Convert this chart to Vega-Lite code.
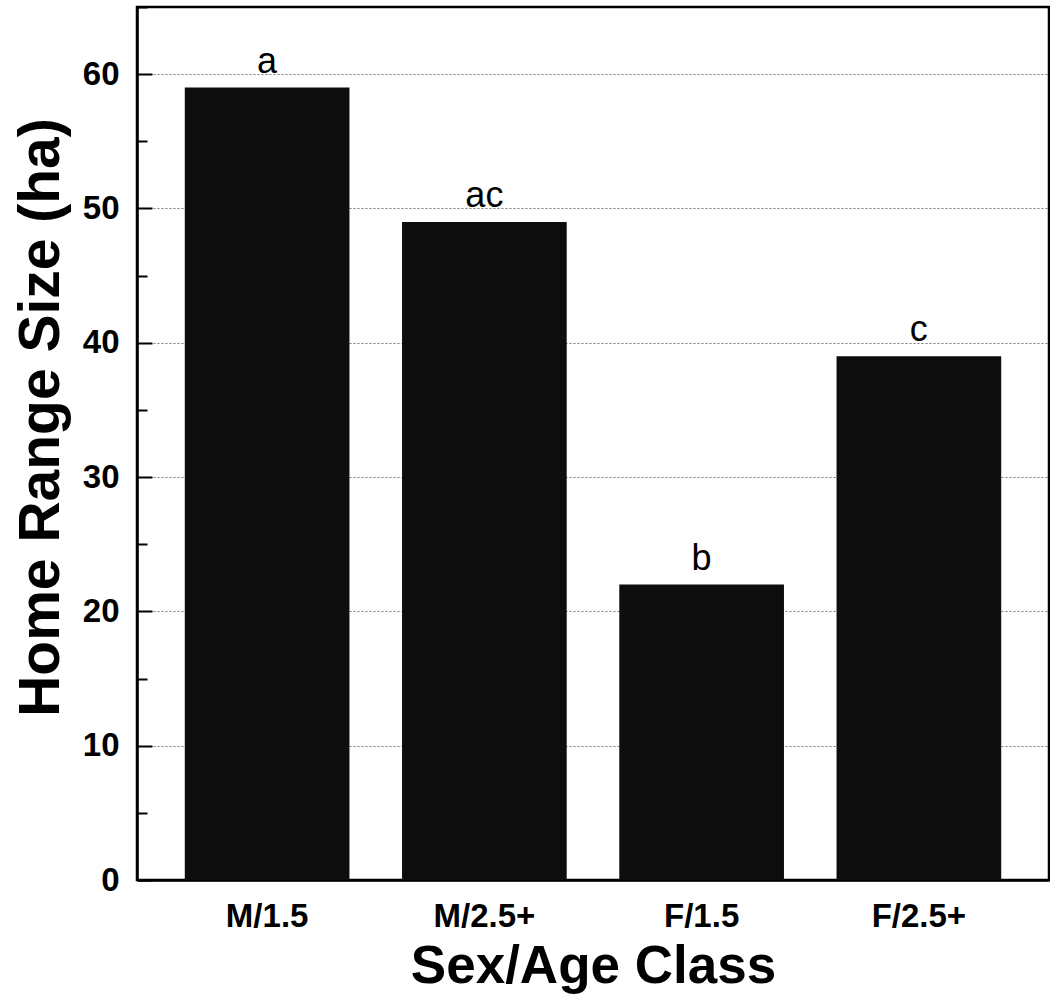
{
  "$schema": "https://vega.github.io/schema/vega-lite/v6.json",
  "autosize": "none",
  "width": 912,
  "height": 873,
  "padding": {"left": 137, "top": 7, "right": 1, "bottom": 120},
  "background": "white",
  "config": {
    "font": "Liberation Sans",
    "view": {"stroke": "black", "strokeWidth": 2.5}
  },
  "data": {
    "values": [
      {"cls": "M/1.5", "size": 59, "sig": "a"},
      {"cls": "M/2.5+", "size": 49, "sig": "ac"},
      {"cls": "F/1.5", "size": 22, "sig": "b"},
      {"cls": "F/2.5+", "size": 39, "sig": "c"}
    ]
  },
  "encoding": {
    "x": {
      "field": "cls",
      "type": "nominal",
      "sort": null,
      "scale": {"paddingInner": 0.242, "paddingOuter": 0.22},
      "axis": {
        "title": "Sex/Age Class",
        "labelAngle": 0,
        "labelFont": "Liberation Sans",
        "labelFontWeight": "bold",
        "labelFontSize": 33,
        "labelColor": "black",
        "labelPadding": 20,
        "ticks": false,
        "domainColor": "black",
        "domainWidth": 2.5,
        "titleFont": "Liberation Sans",
        "titleFontWeight": "bold",
        "titleFontSize": 53,
        "titleColor": "black",
        "titlePadding": 7
      }
    },
    "y": {
      "field": "size",
      "type": "quantitative",
      "scale": {"domain": [0, 65], "nice": false},
      "axis": {
        "title": "Home Range Size (ha)",
        "values": [0, 5, 10, 15, 20, 25, 30, 35, 40, 45, 50, 55, 60, 65],
        "labelExpr": "datum.value % 10 === 0 ? datum.label : ''",
        "labelFont": "Liberation Sans",
        "labelFontWeight": "bold",
        "labelFontSize": 33,
        "labelColor": "black",
        "labelPadding": 33,
        "tickSize": {"condition": {"test": "datum.value % 10 === 0", "value": -15}, "value": -10},
        "tickColor": "black",
        "tickWidth": 2,
        "domainColor": "black",
        "domainWidth": 2.5,
        "grid": true,
        "gridColor": "#777777",
        "gridDash": [2, 2],
        "gridWidth": 1,
        "gridOpacity": {"condition": {"test": "datum.value % 10 === 0 && datum.value > 0", "value": 1}, "value": 0},
        "titleFont": "Liberation Sans",
        "titleFontWeight": "bold",
        "titleFontSize": 57,
        "titleColor": "black",
        "titlePadding": 12,
        "titleY": 410
      }
    }
  },
  "layer": [
    {"mark": {"type": "bar", "color": "#0d0d0d"}},
    {
      "mark": {"type": "text", "baseline": "alphabetic", "dy": -15, "fontSize": 36, "font": "Liberation Sans", "color": "black"},
      "encoding": {"text": {"field": "sig"}}
    }
  ]
}
